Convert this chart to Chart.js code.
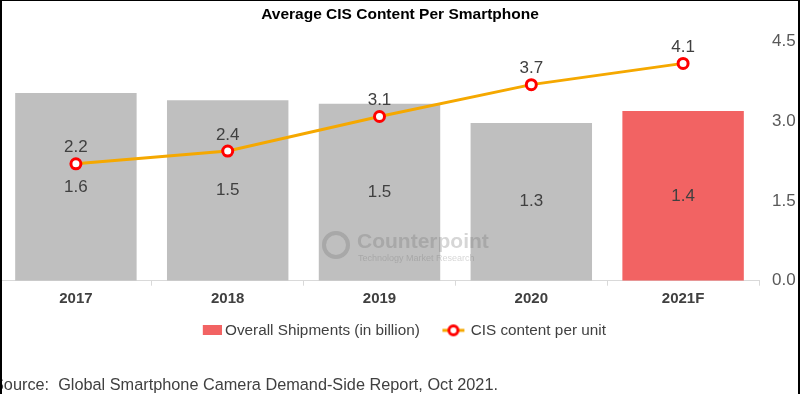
<!DOCTYPE html>
<html>
<head>
<meta charset="utf-8">
<script src="https://cdn.jsdelivr.net/npm/chart.js@4.4.0/dist/chart.umd.min.js"></script>
<style>
  html, body { margin: 0; padding: 0; background: #fff; }
  #wrap { position: relative; width: 800px; height: 394px; overflow: hidden; background: #fff; }
  #frame { position: absolute; left: 0; top: 0; width: 796px; height: 394px; border-left: 2px solid #000; border-top: 1px solid #000; border-right: 2px solid #000; pointer-events: none; z-index: 5; }
  canvas { position: absolute; left: 0; top: 0; }
  #source { position: absolute; left: -7px; top: 375px; font: 16.3px "Liberation Sans", Arial, sans-serif; color: #404040; white-space: pre; z-index: 3; }
  #wm { position: absolute; left: 322px; top: 229px; z-index: 3; opacity: 0.28; color: #6d6d6d; font-family: "Liberation Sans", Arial, sans-serif; }
  #wm .logo { position: absolute; left: 0; top: 2px; width: 20px; height: 20px; border: 4px solid #6d6d6d; border-radius: 50%; }
  #wm .t1 { position: absolute; left: 35px; top: 0px; font-weight: bold; font-size: 21px; white-space: nowrap; }
  #wm .t2 { position: absolute; left: 36px; top: 24px; font-size: 9px; white-space: nowrap; }
</style>
</head>
<body>
<div id="wrap">
  <canvas id="c" width="800" height="394"></canvas>
  <div id="wm"><div class="logo"></div><div class="t1">Counterpoint</div><div class="t2">Technology Market Research</div></div>
  <div id="source">Source:  Global Smartphone Camera Demand-Side Report, Oct 2021.</div>
  <div id="frame"></div>
</div>
<script>
const categories = ["2017", "2018", "2019", "2020", "2021F"];
const shipments = [1.57, 1.51, 1.48, 1.32, 1.42];
const cisContent = [2.2, 2.44, 3.09, 3.69, 4.09];
const rightTicks = [0, 1.5, 3.0, 4.5];
const barColors = ["#bfbfbf", "#bfbfbf", "#bfbfbf", "#bfbfbf", "#f26363"];
const seriesNames = ["Overall Shipments (in billion)", "CIS content per unit"];

const FONT = '"Liberation Sans", Arial, sans-serif';

function makeRectIcon() {
  const cv = document.createElement('canvas');
  cv.width = 24; cv.height = 10;
  const g = cv.getContext('2d');
  g.fillStyle = '#f26363';
  g.fillRect(5, 0, 19, 10);
  return cv;
}
function makeLineIcon() {
  const cv = document.createElement('canvas');
  cv.width = 34; cv.height = 14;
  const g = cv.getContext('2d');
  g.strokeStyle = '#f5a800'; g.lineWidth = 3;
  g.beginPath(); g.moveTo(4, 7); g.lineTo(26, 7); g.stroke();
  g.beginPath(); g.arc(15, 7, 4.5, 0, Math.PI * 2);
  g.fillStyle = '#fff'; g.fill();
  g.strokeStyle = '#ff0000'; g.lineWidth = 3; g.stroke();
  return cv;
}
const icons = [makeRectIcon(), makeLineIcon()];
const legendTexts = [seriesNames[0] + '    ', seriesNames[1]];

const valueLabels = {
  id: 'valueLabels',
  afterDatasetsDraw(chart) {
    const ctx = chart.ctx;
    ctx.save();
    ctx.font = '17px ' + FONT;
    ctx.fillStyle = '#404040';
    ctx.textAlign = 'center';
    ctx.textBaseline = 'middle';
    const barMeta = chart.getDatasetMeta(1);
    barMeta.data.forEach((el, i) => {
      const y = (el.y + el.base) / 2;
      ctx.fillText(shipments[i].toFixed(1), el.x, y);
    });
    const lineMeta = chart.getDatasetMeta(0);
    lineMeta.data.forEach((el, i) => {
      ctx.fillText(cisContent[i].toFixed(1), el.x, el.y - 16);
    });
    ctx.restore();
  }
};

const legendShift = {
  id: 'legendShift',
  afterLayout(chart) {
    if (chart.legend) { chart.legend.left += 4; chart.legend.right += 4; }
  }
};

new Chart(document.getElementById('c'), {
  data: {
    labels: categories,
    datasets: [
      {
        type: 'line',
        label: seriesNames[1],
        data: cisContent,
        yAxisID: 'yR',
        borderColor: '#f5a800',
        borderWidth: 3,
        tension: 0,
        pointRadius: 5,
        pointBorderWidth: 3,
        pointBorderColor: '#ff0000',
        pointBackgroundColor: '#ffffff',
        order: 0
      },
      {
        type: 'bar',
        label: seriesNames[0],
        data: shipments,
        yAxisID: 'yL',
        backgroundColor: barColors,
        categoryPercentage: 1.0,
        barPercentage: 0.8,
        order: 1
      }
    ]
  },
  options: {
    responsive: false,
    animation: false,
    devicePixelRatio: 1,
    layout: { autoPadding: false, padding: { left: 0, right: 0, top: 5, bottom: 46 } },
    plugins: {
      title: {
        display: true,
        text: 'Average CIS Content Per Smartphone',
        color: '#000',
        font: { family: FONT, size: 15.5, weight: 'bold' },
        padding: { top: 0, bottom: 18 }
      },
      legend: {
        display: true,
        position: 'bottom',
        labels: {
          color: '#404040',
          font: { family: FONT, size: 15.3 },
          usePointStyle: true,
          padding: 11,
          generateLabels(chart) {
            return [1, 0].map((di, k) => ({
              text: legendTexts[k],
              pointStyle: icons[k],
              fillStyle: 'transparent',
              strokeStyle: 'transparent',
              lineWidth: 0,
              fontColor: '#404040',
              hidden: false,
              datasetIndex: di
            }));
          }
        }
      },
      tooltip: { enabled: false }
    },
    scales: {
      x: {
        type: 'category',
        offset: true,
        grid: { display: true, drawOnChartArea: false, drawTicks: true, tickLength: 5, color: '#d9d9d9', offset: true },
        border: { display: true, color: '#d9d9d9', width: 1 },
        ticks: { color: '#404040', font: { family: FONT, size: 15, weight: 'bold' }, padding: 4, maxRotation: 0 }
      },
      yL: {
        position: 'left',
        display: false,
        min: 0,
        max: 2.0
      },
      yR: {
        position: 'right',
        min: 0,
        max: 4.5,
        afterBuildTicks(scale) { scale.ticks = rightTicks.map(v => ({ value: v })); },
        afterFit(scale) { scale.width = 41; },
        grid: { display: false, drawTicks: false },
        border: { display: false },
        ticks: {
          color: '#595959',
          font: { family: FONT, size: 17 },
          padding: 13,
          callback: (v) => Number(v).toFixed(1)
        }
      }
    }
  },
  plugins: [valueLabels, legendShift]
});
</script>
</body>
</html>
